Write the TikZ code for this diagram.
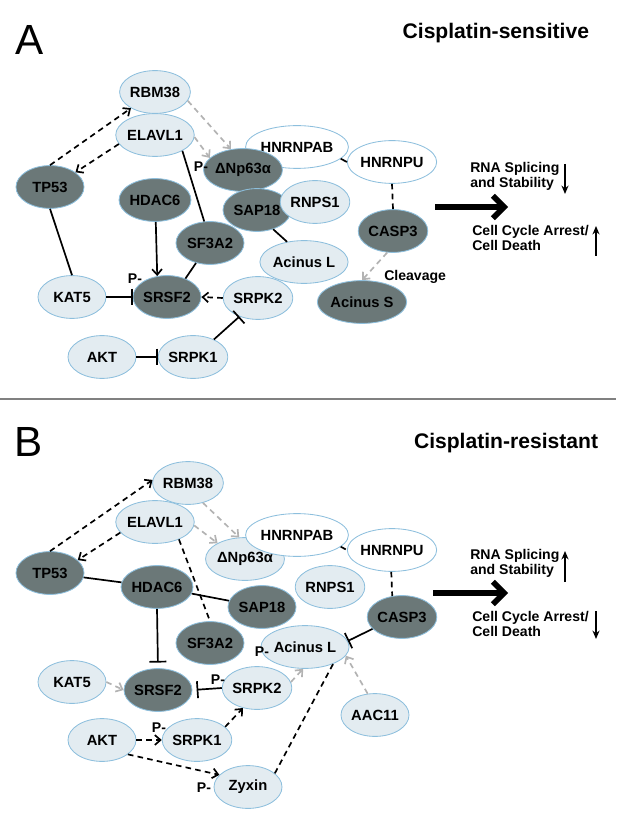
\documentclass[tikz,border=0pt]{standalone}
\usepackage{fontspec}
\setmainfont{Liberation Sans}
\usetikzlibrary{shapes,arrows.meta,positioning,calc}

\definecolor{protdark}{HTML}{6B7878}
\definecolor{protlight}{HTML}{E3ECF1}
\definecolor{ring}{HTML}{8DBFDD}
\definecolor{faint}{HTML}{B3B3B3}

\begin{document}
\begin{tikzpicture}[x=0.025cm, y=-0.025cm,
    prot/.style={ellipse, draw=ring, line width=0.6pt, fill=#1, minimum width=1.7cm, minimum height=1.07cm, inner sep=0pt, font=\bfseries\fontsize{10.5}{11}\selectfont},
    broad/.style={minimum width=1.9cm},
    lbl/.style={font=\bfseries\fontsize{10}{10.6}\selectfont, inner sep=0pt},
    link/.style={line width=1.2pt},
    arrow/.style={-{Straight Barb[length=4pt,width=7pt]}, line width=1.2pt},
    dashline/.style={line width=1.2pt, dash pattern=on 4pt off 3pt},
    dasharrow/.style={dashline, -{Straight Barb[length=4pt,width=7pt]}},
    grayarrow/.style={dasharrow, draw=faint},
    inhibit/.style={-{Bar[width=12pt]}, line width=1.2pt},
    big/.style={-{Straight Barb[length=8pt,width=16pt]}, line width=4pt},
    trend/.style={-{Stealth[length=6pt,width=5pt]}, line width=1.4pt}
]
    \useasboundingbox (0,0) rectangle (616,832);

    % Panel A
    \node[font=\fontsize{30}{30}\selectfont] (tagA) at (30,40) {A};
    \node[font=\bfseries\fontsize{15}{15}\selectfont, anchor=east] (titleA) at (594,33) {Cisplatin-sensitive};

    \node[prot=protlight] (rbm38a) at (155,92) {RBM38};
    \node[prot=protlight] (elavl1a) at (155,135) {ELAVL1};
    \node[prot=protdark] (tp53a) at (50,187) {TP53};
    \node[prot=protdark] (hdac6a) at (155,200) {HDAC6};
    \node[prot=white, broad] (hnrnpaba) at (297,147) {HNRNPAB};
    \node[prot=protdark] (dnpa) at (243,170) {ΔNp63α};
    \node[prot=white, broad] (hnrnpua) at (392,162) {HNRNPU};
    \node[prot=protdark] (sap18a) at (257,210) {SAP18};
    \node[prot=protlight] (rnps1a) at (315,202) {RNPS1};
    \node[prot=protdark] (casp3a) at (393,231) {CASP3};
    \node[prot=protdark] (sf3a2a) at (210,243) {SF3A2};
    \node[prot=protlight] (acinla) at (304,262) {Acinus L};
    \node[prot=protlight] (kat5a) at (72,297) {KAT5};
    \node[prot=protdark] (srsf2a) at (167,297) {SRSF2};
    \node[prot=protlight] (srpk2a) at (258,298) {SRPK2};
    \node[prot=protlight] (akta) at (102,357) {AKT};
    \node[prot=protlight] (srpk1a) at (193,357) {SRPK1};
    \node[prot=protdark] (acinsa) at (362,302) {Acinus S};

    \node[lbl] (pdnpa) at (201,167) {P-};
    \node[lbl] (psrsf2a) at (135,279) {P-};
    \node[lbl, anchor=west] (cleave) at (384,277) {Cleavage};

    \draw[dasharrow] (tp53a.north) -- (rbm38a.214);
    \draw[dasharrow] (elavl1a.194) -- (tp53a.30);
    \draw[grayarrow] (rbm38a.-15) -- (dnpa.120);
    \draw[grayarrow] (elavl1a.-3) -- (dnpa.160);
    \draw[link] (elavl1a.-30) -- (sf3a2a.105);
    \draw[arrow] (hdac6a.-88) -- (srsf2a.115);
    \draw[link] (tp53a.south) -- (kat5a.north);
    \draw[inhibit] (kat5a.east) -- (srsf2a.west);
    \draw[link] (sf3a2a.235) -- (srsf2a.45);
    \draw[dasharrow] (srpk2a.west) -- (srsf2a.east);
    \draw[inhibit] (srpk1a.40) -- (srpk2a.225);
    \draw[inhibit] (akta.east) -- (srpk1a.west);
    \draw[link] (sap18a.-50) -- (acinla.130);
    \draw[link] (hnrnpaba.-15) -- (hnrnpua.west);
    \draw[dashline] (hnrnpua.south) -- (casp3a.north);
    \draw[grayarrow] (casp3a.-105) -- (acinsa.north);

    % Outcome A
    \coordinate (outA) at (435,207);
    \coordinate (inA) at (508,207);
    \draw[big] (outA) -- (inA);
    \node[lbl, align=left, anchor=west] (rnaA) at (470,176) {RNA Splicing\\and Stability};
    \node[lbl, align=left, anchor=west] (cellA) at (472,238) {Cell Cycle Arrest/\\Cell Death};
    \coordinate (rnaAtop) at (565,164);
    \coordinate (rnaAbot) at (565,194);
    \coordinate (cellAbot) at (596,256);
    \coordinate (cellAtop) at (596,226);
    \draw[trend] (rnaAtop) -- (rnaAbot);
    \draw[trend] (cellAbot) -- (cellAtop);

    % Divider
    \draw[gray, line width=1.3pt] (0,399) -- (616,399);

    % Panel B
    \node[font=\fontsize{30}{30}\selectfont] (tagB) at (29,442) {B};
    \node[font=\bfseries\fontsize{15}{15}\selectfont, anchor=east] (titleB) at (603,443) {Cisplatin-resistant};

    \node[prot=protlight] (rbm38b) at (188,483) {RBM38};
    \node[prot=protlight] (elavl1b) at (155,522) {ELAVL1};
    \node[prot=protdark] (tp53b) at (50,573) {TP53};
    \node[prot=protdark] (hdac6b) at (157,587) {HDAC6};
    \node[prot=protlight] (dnpb) at (245,559) {ΔNp63α};
    \node[prot=white, broad] (hnrnpabb) at (297,535) {HNRNPAB};
    \node[prot=white, broad] (hnrnpub) at (392,550) {HNRNPU};
    \node[prot=protlight] (rnps1b) at (330,587) {RNPS1};
    \node[prot=protdark] (sap18b) at (262,607) {SAP18};
    \node[prot=protdark] (casp3b) at (402,617) {CASP3};
    \node[prot=protdark] (sf3a2b) at (210,643) {SF3A2};
    \node[prot=protlight] (acinlb) at (305,647) {Acinus L};
    \node[prot=protlight] (kat5b) at (72,682) {KAT5};
    \node[prot=protdark] (srsf2b) at (158,690) {SRSF2};
    \node[prot=protlight] (srpk2b) at (257,688) {SRPK2};
    \node[prot=protlight] (aktb) at (102,740) {AKT};
    \node[prot=protlight] (srpk1b) at (197,740) {SRPK1};
    \node[prot=protlight] (zyxinb) at (248,787) {Zyxin};
    \node[prot=protlight] (aac11b) at (375,715) {AAC11};

    \node[lbl] (pacinlb) at (262,652) {P-};
    \node[lbl] (psrpk2b) at (218,680) {P-};
    \node[lbl] (psrpk1b) at (159,728) {P-};
    \node[lbl] (pzyxinb) at (204,788) {P-};

    \draw[dasharrow] (tp53b.north) -- (rbm38b.175);
    \draw[dasharrow] (elavl1b.197) -- (tp53b.25);
    \draw[grayarrow] (rbm38b.-53) -- (dnpb.105);
    \draw[grayarrow] (elavl1b.-5) -- (dnpb.150);
    \draw[dashline] (elavl1b.-36) -- (sf3a2b.north);
    \draw[link] (tp53b) -- (hdac6b);
    \draw[link] (hdac6b) -- (sap18b);
    \draw[inhibit, shorten >=4pt] (hdac6b.south) -- (srsf2b.north);
    \draw[grayarrow] (kat5b.east) -- (srsf2b.west);
    \draw[inhibit, shorten >=3pt] (srpk2b.west) -- (srsf2b.east);
    \draw[dasharrow] (aktb.east) -- (srpk1b.west);
    \draw[dasharrow] (srpk1b.25) -- (srpk2b.235);
    \draw[dasharrow] (aktb.-29) -- (zyxinb.157);
    \draw[dashline] (zyxinb.27) -- (acinlb.-31);
    \draw[grayarrow] (srpk2b.10) -- (acinlb.-95);
    \draw[grayarrow] (aac11b.109) -- (acinlb.-12);
    \draw[inhibit] (casp3b.202) -- (acinlb.8);
    \draw[dashline] (hnrnpabb.-15) -- (hnrnpub.west);
    \draw[dashline] (hnrnpub.-92) -- (casp3b.115);

    % Outcome B
    \coordinate (outB) at (433,593);
    \coordinate (inB) at (508,593);
    \draw[big] (outB) -- (inB);
    \node[lbl, align=left, anchor=west] (rnaB) at (470,563) {RNA Splicing\\and Stability};
    \node[lbl, align=left, anchor=west] (cellB) at (472,624) {Cell Cycle Arrest/\\Cell Death};
    \coordinate (rnaBbot) at (565,582);
    \coordinate (rnaBtop) at (565,551);
    \coordinate (cellBtop) at (596,611);
    \coordinate (cellBbot) at (596,639);
    \draw[trend] (rnaBbot) -- (rnaBtop);
    \draw[trend] (cellBtop) -- (cellBbot);
\end{tikzpicture}
\end{document}
